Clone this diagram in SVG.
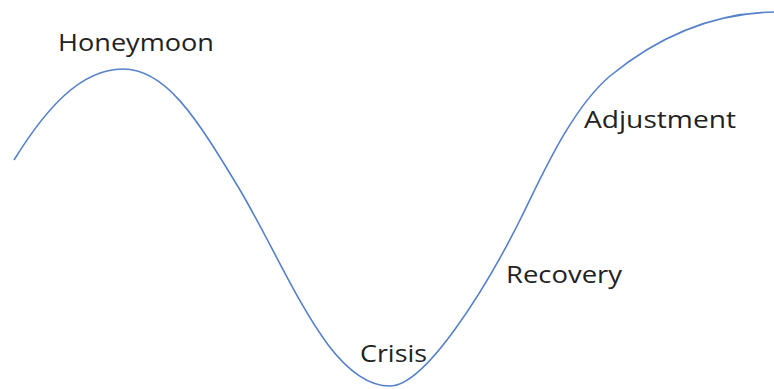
<svg xmlns="http://www.w3.org/2000/svg" width="774" height="389" viewBox="0 0 774 389">
  <style>
    .label { font-family: "Open Sans", "Liberation Sans", sans-serif; font-size: 23px; fill: #222; }
    .curve { fill: none; stroke: #5581CA; stroke-width: 1.6; }
  </style>
  <rect width="774" height="389" fill="#ffffff"/>
  <g id="connectors">
    <!-- adjustment curve: honeymoon peak, crisis trough, recovery climb, adjustment plateau -->
    <path class="curve" d="M14,160 C45,110 80,69 123,69 C165,69 195,115 240,190 C290,275 330,386 390,386 C425,386 485,290 520,220 C540,180 570,110 610,76 C660,35 715,13 774,12"/>
  </g>
  <g id="honeymoon"><text class="label" x="58" y="51" textLength="156" lengthAdjust="spacingAndGlyphs">Honeymoon</text></g>
  <g id="crisis"><text class="label" x="360" y="362" textLength="67" lengthAdjust="spacingAndGlyphs">Crisis</text></g>
  <g id="recovery"><text class="label" x="506" y="283" textLength="116" lengthAdjust="spacingAndGlyphs">Recovery</text></g>
  <g id="adjustment"><text class="label" x="584" y="128" textLength="152" lengthAdjust="spacingAndGlyphs">Adjustment</text></g>
</svg>
